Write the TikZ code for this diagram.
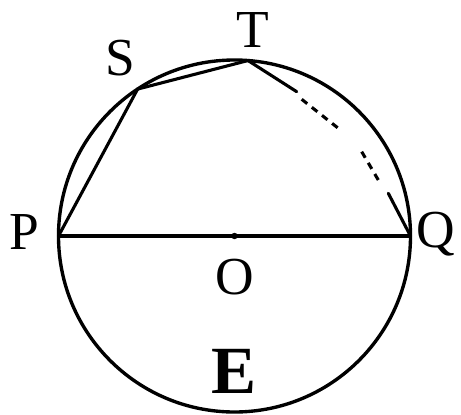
\documentclass[tikz,border=0pt]{standalone}
\usepackage{fontspec}
\setmainfont{Liberation Serif}
\usetikzlibrary{calc}

\tikzset{
    lbl/.style={font=\fontsize{38}{42}\selectfont, inner sep=0pt},
    seg/.style={line width=2.2pt, line cap=round},
    dsh/.style={line width=2.2pt, dash pattern=on 5pt off 4.2pt},
}

\begin{document}
\begin{tikzpicture}
    \useasboundingbox (-5.8625,-4.45) rectangle (5.6625,5.9);
    % circle and points on it
    \coordinate (O) at (0,0);
    \draw[line width=2.4pt] (O) circle[radius=4.4cm];
    \coordinate (P) at (180:4.4);
    \coordinate (Q) at (0:4.4);
    \coordinate (S) at (123.4:4.4);
    \coordinate (T) at (85.6:4.4);
    % points along the dashed part
    \coordinate (a) at (1.555,3.608);
    \coordinate (b1) at (1.68,3.418);
    \coordinate (b2) at (2.595,2.693);
    \coordinate (c1) at (3.18,2.108);
    \coordinate (c2) at (3.595,1.4);
    \coordinate (d) at (3.845,1.068);

    \draw[seg] (P) -- (Q);
    \draw[seg] (P) -- (S) -- (T) -- (a);
    \draw[dsh] (b1) -- (b2);
    \draw[dsh] (c1) -- (c2);
    \draw[seg] (d) -- (Q);
    \fill (O) circle[radius=0.08];

    % labels
    \node[lbl] (lP) at (-5.26,0.1) {P};
    \node[lbl] (lQ) at (5.04,0.05) {Q};
    \node[lbl] (lS) at (-2.86,4.45) {S};
    \node[lbl] (lT) at (0.46,5.15) {T};
    \node[lbl] (lO) at (0.01,-1.03) {O};
    \node[lbl, font=\fontsize{48}{52}\selectfont\bfseries] (lE) at (0,-3.38) {E};
\end{tikzpicture}
\end{document}
